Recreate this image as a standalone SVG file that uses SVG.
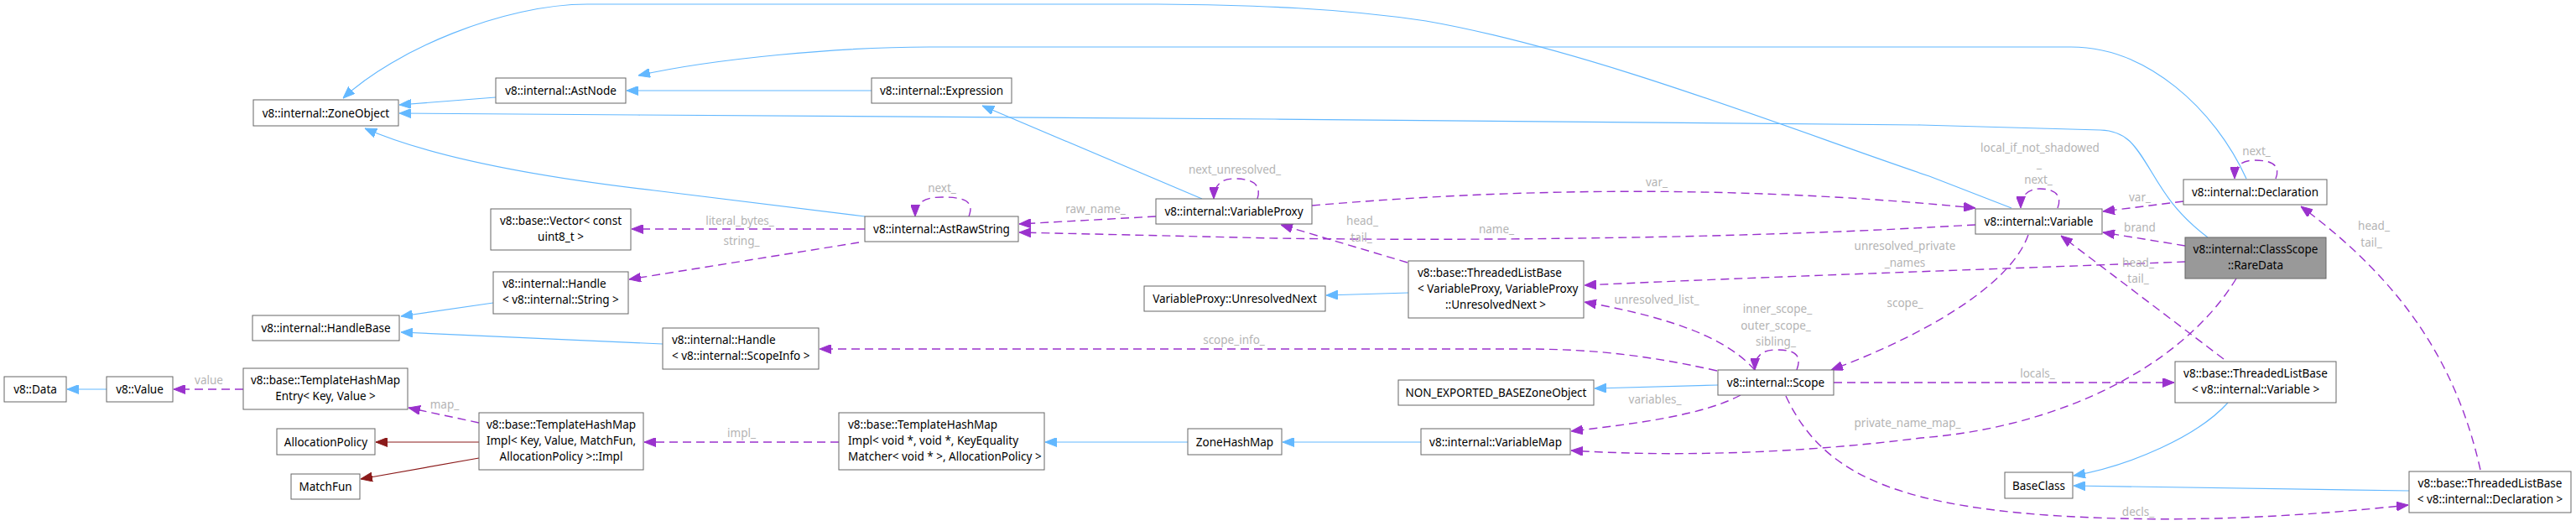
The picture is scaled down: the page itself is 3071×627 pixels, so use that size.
<svg xmlns="http://www.w3.org/2000/svg" width="3071" height="627" viewBox="0 0 3071 627">
<style>
.node rect{fill:#fff;stroke:#666;stroke-width:1}
.node text{font-family:"Noto Sans","DejaVu Sans",sans-serif;font-size:13.5px;fill:#000}
.m{text-anchor:middle}
.e{fill:none;stroke-width:1.2}
.inh{stroke:#63b8ff}
.use{stroke:#9a32cd;stroke-dasharray:10,6;stroke-width:1.4}
.tpl{stroke:#8b1a1a}
.lbl{font-family:"Noto Sans","DejaVu Sans",sans-serif;font-size:13.5px;fill:#b4b4b4;text-anchor:middle}
</style>
<defs>
<marker id="ab" markerUnits="userSpaceOnUse" viewBox="0 0 14 11" refX="14" refY="5.5" markerWidth="14" markerHeight="11" orient="auto"><path d="M0,0 L14,5.5 L0,11 z" fill="#63b8ff" stroke="#63b8ff"/></marker>
<marker id="ap" markerUnits="userSpaceOnUse" viewBox="0 0 14 11" refX="14" refY="5.5" markerWidth="14" markerHeight="11" orient="auto"><path d="M0,0 L14,5.5 L0,11 z" fill="#9a32cd" stroke="#9a32cd"/></marker>
<marker id="ar" markerUnits="userSpaceOnUse" viewBox="0 0 14 11" refX="14" refY="5.5" markerWidth="14" markerHeight="11" orient="auto"><path d="M0,0 L14,5.5 L0,11 z" fill="#8b1a1a" stroke="#8b1a1a"/></marker>
</defs>
<rect width="3071" height="627" fill="#fff"/>
<g id="connectors">
<path class="e inh" marker-end="url(#ab)" d="M591,116 L476,125"/>
<path class="e inh" marker-end="url(#ab)" d="M2398,248 L2300,210 C2150,160 1900,60 1700,25 C1600,10 1500,6 1380,5 L700,5 C600,5 470,60 409,117"/>
<path class="e inh" marker-end="url(#ab)" d="M2678,213 C2640,130 2560,56 2469,56 L1108,56 C1000,56 850,70 761,90"/>
<path class="e inh" marker-end="url(#ab)" d="M1039,108 L747,108"/>
<path class="e inh" marker-end="url(#ab)" d="M2632,283 C2595,255 2580,230 2565,205 C2545,172 2535,156 2504,155 L2290,149 L1520,142 L760,137 L476,135"/>
<path class="e inh" marker-end="url(#ab)" d="M1031,258 L780,227 C650,212 520,190 435,153"/>
<path class="e inh" marker-end="url(#ab)" d="M1433,237 L1171,126"/>
<path class="e inh" marker-end="url(#ab)" d="M588,361 L478,377"/>
<path class="e inh" marker-end="url(#ab)" d="M790,410 L478,396"/>
<path class="e inh" marker-end="url(#ab)" d="M127,464 L80,464"/>
<path class="e inh" marker-end="url(#ab)" d="M1679,349 L1581,352"/>
<path class="e inh" marker-end="url(#ab)" d="M1416,527 L1246,527"/>
<path class="e inh" marker-end="url(#ab)" d="M1694,527 L1529,527"/>
<path class="e inh" marker-end="url(#ab)" d="M2048,459 L1901,463"/>
<path class="e inh" marker-end="url(#ab)" d="M2656,480 C2620,520 2540,555 2472,567"/>
<path class="e inh" marker-end="url(#ab)" d="M2872,585 L2472,579"/>
<path class="e tpl" marker-end="url(#ar)" d="M571,527 L448,527"/>
<path class="e tpl" marker-end="url(#ar)" d="M571,546 L430,571"/>
<path class="e use" marker-end="url(#ap)" d="M290,464 L207,464"/>
<text class="lbl" x="249" y="458">value</text>
<path class="e use" marker-end="url(#ap)" d="M571,504 L487,486"/>
<text class="lbl" x="530" y="487">map_</text>
<path class="e use" marker-end="url(#ap)" d="M1000,527 L768,527"/>
<text class="lbl" x="884" y="521">impl_</text>
<path class="e use" marker-end="url(#ap)" d="M1031,273 L753,273"/>
<text class="lbl" x="882" y="268">literal_bytes_</text>
<path class="e use" marker-end="url(#ap)" d="M1024,289 L750,333"/>
<text class="lbl" x="884" y="292">string_</text>
<path class="e use" marker-end="url(#ap)" d="M1155,258 C1162,240 1150,235 1123,235 C1100,235 1091,243 1091,258"/>
<text class="lbl" x="1123" y="229">next_</text>
<path class="e use" marker-end="url(#ap)" d="M1378,258 L1215,267"/>
<text class="lbl" x="1306" y="254">raw_name_</text>
<path class="e use" marker-end="url(#ap)" d="M2355,268 L2300,271 C2100,282 1800,288 1520,284 L1215,277"/>
<text class="lbl" x="1784" y="278">name_</text>
<path class="e use" marker-end="url(#ap)" d="M1499,237 C1505,218 1490,213 1471,213 C1455,213 1447,222 1447,237"/>
<text class="lbl" x="1472" y="207">next_unresolved_</text>
<path class="e use" marker-end="url(#ap)" d="M1564,245 Q1970,210 2355,248"/>
<text class="lbl" x="1975" y="222">var_</text>
<path class="e use" marker-end="url(#ap)" d="M1678,313 L1527,268"/>
<text class="lbl" x="1624" y="268">head_</text>
<text class="lbl" x="1623" y="288">tail_</text>
<path class="e use" marker-end="url(#ap)" d="M2605,312 C2400,320 2100,330 1889,340"/>
<text class="lbl" x="2271" y="298">unresolved_private</text>
<text class="lbl" x="2271" y="318">_names</text>
<path class="e use" marker-end="url(#ap)" d="M2092,441 C2060,405 2000,380 1889,360"/>
<text class="lbl" x="1975" y="362">unresolved_list_</text>
<path class="e use" marker-end="url(#ap)" d="M2142,441 C2150,420 2135,417 2117,417 C2100,417 2092,425 2092,441"/>
<text class="lbl" x="2119" y="373">inner_scope_</text>
<text class="lbl" x="2117" y="393">outer_scope_</text>
<text class="lbl" x="2117" y="412">sibling_</text>
<path class="e use" marker-end="url(#ap)" d="M2418,280 C2395,345 2280,405 2183,441"/>
<text class="lbl" x="2271" y="366">scope_</text>
<path class="e use" marker-end="url(#ap)" d="M2047,442 C1950,420 1880,416 1818,416 L977,416"/>
<text class="lbl" x="1471" y="410">scope_info_</text>
<path class="e use" marker-end="url(#ap)" d="M2075,471 C2030,495 1950,505 1873,514"/>
<text class="lbl" x="1973" y="481">variables_</text>
<path class="e use" marker-end="url(#ap)" d="M2666,332 C2600,440 2450,510 2290,522 C2150,540 2000,545 1873,537"/>
<text class="lbl" x="2274" y="509">private_name_map_</text>
<path class="e use" marker-end="url(#ap)" d="M2186,456 L2592,456"/>
<text class="lbl" x="2429" y="450">locals_</text>
<path class="e use" marker-end="url(#ap)" d="M2129,472 C2170,560 2250,600 2440,614 C2600,625 2750,615 2871,602"/>
<text class="lbl" x="2549" y="615">decls_</text>
<path class="e use" marker-end="url(#ap)" d="M2651,428 L2457,281"/>
<text class="lbl" x="2549" y="318">head_</text>
<text class="lbl" x="2549" y="337">tail_</text>
<path class="e use" marker-end="url(#ap)" d="M2957,560 C2930,440 2870,340 2743,246"/>
<text class="lbl" x="2830" y="274">head_</text>
<text class="lbl" x="2827" y="294">tail_</text>
<path class="e use" marker-end="url(#ap)" d="M2603,240 L2507,252"/>
<text class="lbl" x="2551" y="240">var_</text>
<path class="e use" marker-end="url(#ap)" d="M2713,213 C2720,195 2705,191 2688,191 C2672,191 2664,198 2664,213"/>
<text class="lbl" x="2690" y="185">next_</text>
<path class="e use" marker-end="url(#ap)" d="M2453,248 C2460,230 2445,225 2432,225 C2418,225 2409,233 2409,248"/>
<text class="lbl" x="2432" y="181">local_if_not_shadowed</text>
<text class="lbl" x="2431" y="200">_</text>
<text class="lbl" x="2430" y="219">next_</text>
<path class="e use" marker-end="url(#ap)" d="M2605,293 L2507,277"/>
<text class="lbl" x="2551" y="276">brand</text>
</g>
<g id="n_zoneobject" class="node"><rect x="302" y="119" width="173" height="31"/><text class="m" x="388.5" y="139.5">v8::internal::ZoneObject</text></g>
<g id="n_astnode" class="node"><rect x="591" y="93" width="155" height="30"/><text class="m" x="668.5" y="113">v8::internal::AstNode</text></g>
<g id="n_expression" class="node"><rect x="1039" y="93" width="167" height="30"/><text class="m" x="1122.5" y="113">v8::internal::Expression</text></g>
<g id="n_vector" class="node"><rect x="585" y="249" width="167" height="49"/><text class="m" x="668.5" y="268">v8::base::Vector&lt; const</text><text class="m" x="668.5" y="287">uint8_t &gt;</text></g>
<g id="n_astrawstring" class="node"><rect x="1031" y="258" width="183" height="30"/><text class="m" x="1122.5" y="278">v8::internal::AstRawString</text></g>
<g id="n_variableproxy" class="node"><rect x="1378" y="237" width="186" height="30"/><text class="m" x="1471" y="257">v8::internal::VariableProxy</text></g>
<g id="n_tlb_vp" class="node"><rect x="1679" y="311" width="209" height="68"/><text x="1690" y="330">v8::base::ThreadedListBase</text><text x="1690" y="349">&lt; VariableProxy, VariableProxy</text><text class="m" x="1783" y="368">::UnresolvedNext &gt;</text></g>
<g id="n_declaration" class="node"><rect x="2603" y="214" width="171" height="30"/><text class="m" x="2688.5" y="234">v8::internal::Declaration</text></g>
<g id="n_variable" class="node"><rect x="2355" y="249" width="151" height="30"/><text class="m" x="2430.5" y="269">v8::internal::Variable</text></g>
<g id="n_raredata" class="node"><rect x="2605" y="283" width="168" height="49" style="fill:#999999"/><text class="m" x="2689" y="302">v8::internal::ClassScope</text><text class="m" x="2689" y="321">::RareData</text></g>
<g id="n_handle_string" class="node"><rect x="588" y="324" width="161" height="50"/><text x="599" y="343">v8::internal::Handle</text><text x="599" y="362">&lt; v8::internal::String &gt;</text></g>
<g id="n_handlebase" class="node"><rect x="301" y="376" width="175" height="30"/><text class="m" x="388.5" y="396">v8::internal::HandleBase</text></g>
<g id="n_data" class="node"><rect x="5" y="449" width="74" height="30"/><text class="m" x="42" y="469">v8::Data</text></g>
<g id="n_value" class="node"><rect x="127" y="449" width="79" height="30"/><text class="m" x="166.5" y="469">v8::Value</text></g>
<g id="n_thm_entry" class="node"><rect x="290" y="439" width="196" height="49"/><text class="m" x="388" y="458">v8::base::TemplateHashMap</text><text class="m" x="388" y="477">Entry&lt; Key, Value &gt;</text></g>
<g id="n_allocpolicy" class="node"><rect x="330" y="511" width="117" height="31"/><text class="m" x="388.5" y="531.5">AllocationPolicy</text></g>
<g id="n_matchfun" class="node"><rect x="347" y="565" width="82" height="30"/><text class="m" x="388" y="585">MatchFun</text></g>
<g id="n_thm_impl" class="node"><rect x="571" y="492" width="196" height="68"/><text class="m" x="669" y="511">v8::base::TemplateHashMap</text><text class="m" x="669" y="530">Impl&lt; Key, Value, MatchFun,</text><text class="m" x="669" y="549">AllocationPolicy &gt;::Impl</text></g>
<g id="n_unresolvednext" class="node"><rect x="1364" y="341" width="216" height="30"/><text class="m" x="1472" y="361">VariableProxy::UnresolvedNext</text></g>
<g id="n_handle_scopeinfo" class="node"><rect x="790" y="391" width="186" height="49"/><text x="801" y="410">v8::internal::Handle</text><text x="801" y="429">&lt; v8::internal::ScopeInfo &gt;</text></g>
<g id="n_thm_impl_void" class="node"><rect x="1000" y="492" width="245" height="68"/><text x="1011" y="511">v8::base::TemplateHashMap</text><text x="1011" y="530">Impl&lt; void *, void *, KeyEquality</text><text x="1011" y="549">Matcher&lt; void * &gt;, AllocationPolicy &gt;</text></g>
<g id="n_zonehashmap" class="node"><rect x="1416" y="511" width="112" height="31"/><text class="m" x="1472" y="531.5">ZoneHashMap</text></g>
<g id="n_nonexported" class="node"><rect x="1667" y="453" width="233" height="30"/><text class="m" x="1783.5" y="473">NON_EXPORTED_BASEZoneObject</text></g>
<g id="n_scope" class="node"><rect x="2048" y="441" width="138" height="30"/><text class="m" x="2117" y="461">v8::internal::Scope</text></g>
<g id="n_variablemap" class="node"><rect x="1694" y="511" width="178" height="31"/><text class="m" x="1783" y="531.5">v8::internal::VariableMap</text></g>
<g id="n_tlb_variable" class="node"><rect x="2593" y="431" width="192" height="49"/><text class="m" x="2689" y="450">v8::base::ThreadedListBase</text><text class="m" x="2689" y="469">&lt; v8::internal::Variable &gt;</text></g>
<g id="n_baseclass" class="node"><rect x="2390" y="563" width="81" height="31"/><text class="m" x="2430.5" y="583.5">BaseClass</text></g>
<g id="n_tlb_decl" class="node"><rect x="2872" y="562" width="193" height="49"/><text class="m" x="2968.5" y="581">v8::base::ThreadedListBase</text><text class="m" x="2968.5" y="600">&lt; v8::internal::Declaration &gt;</text></g>
</svg>
